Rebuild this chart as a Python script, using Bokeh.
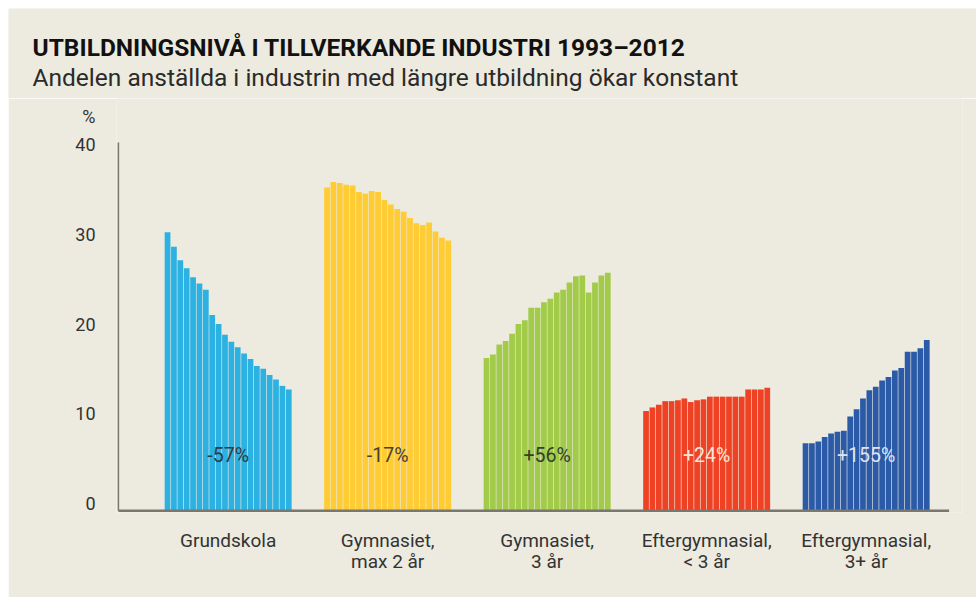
from bokeh.plotting import figure
from bokeh.layouts import column
from bokeh.models import Range1d, FixedTicker, ColumnDataSource
from bokeh.embed import file_html
from bokeh.resources import INLINE
from bokeh.core.properties import value

# ---------------- data ----------------
years = list(range(1993, 2013))
categories = ["Grundskola", "Gymnasiet,\nmax 2 år", "Gymnasiet,\n3 år",
              "Eftergymnasial,\n< 3 år", "Eftergymnasial,\n3+ år"]
grundskola = [31.0, 29.4, 27.9, 27.0, 26.0, 25.3, 24.6, 21.8, 20.8, 19.6,
              18.8, 18.2, 17.5, 16.9, 16.1, 15.8, 15.1, 14.6, 13.9, 13.5]
gymnasiet_max2 = [36.0, 36.6, 36.5, 36.3, 36.2, 35.5, 35.3, 35.6, 35.5, 34.6,
                  34.1, 33.6, 33.3, 32.6, 32.0, 31.8, 32.1, 31.1, 30.4, 30.1]
gymnasiet_3 = [17.0, 17.4, 18.5, 18.9, 19.7, 20.8, 21.2, 22.6, 22.6, 23.2,
               23.6, 24.3, 24.6, 25.4, 26.1, 26.2, 24.3, 25.4, 26.2, 26.5]
eftergymn_lt3 = [11.1, 11.5, 11.8, 12.2, 12.2, 12.3, 12.5, 12.1, 12.3, 12.4,
                 12.7, 12.7, 12.7, 12.7, 12.7, 12.7, 13.5, 13.5, 13.5, 13.7]
eftergymn_3p = [7.5, 7.5, 7.7, 8.2, 8.6, 8.8, 8.9, 10.5, 11.3, 12.5,
                13.4, 13.8, 14.5, 14.9, 15.6, 15.9, 17.7, 17.7, 18.1, 19.0]
changes = ["-57%", "-17%", "+56%", "+24%", "+155%"]
y_ticks = [0, 10, 20, 30, 40]
title = "UTBILDNINGSNIVÅ I TILLVERKANDE INDUSTRI 1993–2012"
subtitle = "Andelen anställda i industrin med längre utbildning ökar konstant"

series = [grundskola, gymnasiet_max2, gymnasiet_3, eftergymn_lt3, eftergymn_3p]

# ---------------- style / layout ----------------
colors = ["#2CB1E3", "#FFCC33", "#A1CB48", "#EF4225", "#2B5BA8"]
label_colors = ["#2f3b44", "#4a4030", "#33402a", "#F6E3DA", "#DDE4F2"]
BG = "#EDEADF"
GRAY = "#7a776f"
TEXT = "#333333"
FONT = "Roboto"
FIRST = 7.2
STRIDE = 25
BAR_W = 0.9
LABEL_Y = 6.2
LABEL_LIFT = 0.78     # tick labels sit just above their tick value
PCT_POS = 43.1        # where the "%" unit sign sits

W = 968
HEAD_H = 90
CHART_H = 589 - HEAD_H

# ---------------- header (title + subtitle) ----------------
head = figure(width=W, height=HEAD_H, output_backend="svg", toolbar_location=None,
              x_range=Range1d(0, W), y_range=Range1d(HEAD_H, 0),
              x_axis_location=None, y_axis_location=None, title_location=None,
              min_border=0)
if "frame_align" in head.properties():
    head.frame_align = False
head.margin = (8, 0, 0, 8)
head.border_fill_color = BG
head.background_fill_color = BG
head.outline_line_color = None
head.grid.grid_line_color = None
head.text(x=[24], y=[39], text=[title], text_font=value(FONT), text_font_size="24.5px",
          text_font_style="bold", text_color="#111111", text_baseline="alphabetic")
head.text(x=[24], y=[69], text=[subtitle], text_font=value(FONT), text_font_size="24.5px",
          text_font_style="normal", text_color="#2a2a2a", text_baseline="alphabetic")

# ---------------- chart ----------------
p = figure(width=W, height=CHART_H, output_backend="svg", toolbar_location=None,
           x_range=Range1d(-0.3, 132.3), y_range=Range1d(-0.2, 45.9),
           min_border_left=108, min_border_right=14, min_border_top=0,
           min_border_bottom=85, title_location=None)
if "frame_align" in p.properties():
    p.frame_align = False
p.margin = (0, 0, 0, 8)
p.border_fill_color = BG
p.background_fill_color = BG
p.outline_line_color = None
p.grid.grid_line_color = None

# bars
xs, tops, cols = [], [], []
for g, vals in enumerate(series):
    start = FIRST + g * STRIDE
    for i, v in enumerate(vals):
        xs.append(start + i + 0.5)
        tops.append(v)
        cols.append(colors[g])
src = ColumnDataSource(dict(x=xs, top=tops, color=cols))
p.vbar(x="x", top="top", bottom=0, width=BAR_W, color="color", line_color=None, source=src)

# axis lines
p.segment(x0=[0], y0=[y_ticks[0]], x1=[0], y1=[y_ticks[-1] + 1], line_color=GRAY, line_width=1.5)
n = len(series)
p.segment(x0=[0], y0=[0], x1=[FIRST + (n - 1) * STRIDE + len(years) + 3], y1=[0],
          line_color=GRAY, line_width=2.5)

# change labels
centers = [FIRST + g * STRIDE + len(years) / 2 for g in range(n)]
lsrc = ColumnDataSource(dict(x=centers, y=[LABEL_Y] * n, text=changes, color=label_colors))
p.text(x="x", y="y", text="text", text_color="color", source=lsrc,
       text_font=value(FONT), text_font_size="19.5px", text_align="center",
       text_baseline="middle", text_font_style="normal")

# y axis
ya = p.yaxis[0]
tick_pos = [round(t + LABEL_LIFT, 2) for t in y_ticks]
pct_pos = round(PCT_POS + LABEL_LIFT, 2)
ya.ticker = FixedTicker(ticks=tick_pos + [pct_pos])
overrides = {tp: str(t) for tp, t in zip(tick_pos, y_ticks)}
overrides[pct_pos] = "%"
ya.major_label_overrides = overrides
ya.axis_line_color = None
ya.major_tick_line_color = None
ya.minor_tick_line_color = None
ya.major_tick_out = 0
ya.major_tick_in = 0
ya.major_label_standoff = 21
ya.major_label_text_font = FONT
ya.major_label_text_font_size = "18px"
ya.major_label_text_color = TEXT

# x axis
xa = p.xaxis[0]
xa.ticker = FixedTicker(ticks=centers)
xa.major_label_overrides = {c: lab for c, lab in zip(centers, categories)}
xa.axis_line_color = None
xa.major_tick_line_color = None
xa.minor_tick_line_color = None
xa.major_tick_out = 0
xa.major_tick_in = 0
xa.major_label_standoff = 16
xa.major_label_text_font = FONT
xa.major_label_text_font_size = "19px"
xa.major_label_text_color = TEXT
xa.major_label_text_line_height = 0.95

layout = column(head, p, spacing=0)
open("out.html", "w").write(file_html(layout, INLINE))
